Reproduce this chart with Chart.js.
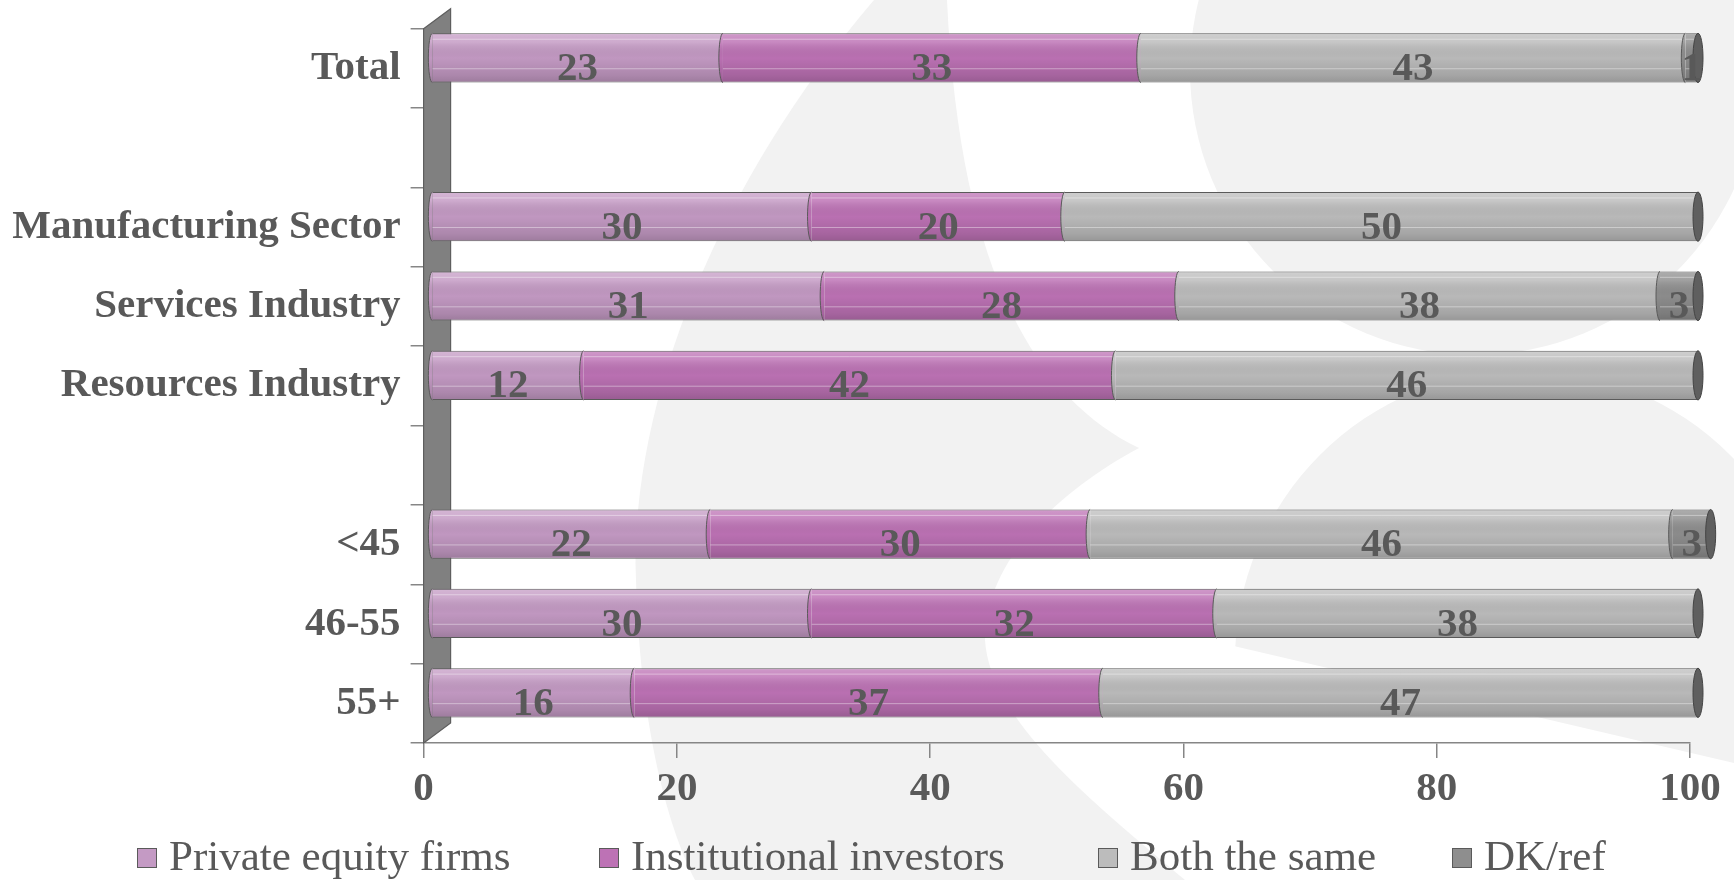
<!DOCTYPE html>
<html>
<head>
<meta charset="utf-8">
<script src="https://cdn.jsdelivr.net/npm/chart.js@4.4.1/dist/chart.umd.min.js"></script>
<style>
  html, body { margin: 0; padding: 0; background: #fff; }
  #wrap { width: 1734px; height: 880px; }
</style>
</head>
<body>
<div id="wrap"><canvas id="myGraph" width="1734" height="880"></canvas></div>
<script>
// data
const categories = ["Total", "", "Manufacturing Sector", "Services Industry", "Resources Industry", "", "<45", "46-55", "55+"];
const seriesNames = ["Private equity firms", "Institutional investors", "Both the same", "DK/ref"];
const privateEquity = [23, null, 30, 31, 12, null, 22, 30, 16];
const institutional = [33, null, 20, 28, 42, null, 30, 32, 37];
const bothSame = [43, null, 50, 38, 46, null, 46, 38, 47];
const dkRef = [1, null, 0, 3, 0, null, 3, 0, 0];
const xTicks = [0, 20, 40, 60, 80, 100];

const seriesColors = ["#c49ac4", "#bd72b5", "#bcbcbc", "#8e8e8e"];
const TEXT = "#595959";
const AXIS = "#868686";
const SERIF = "'Liberation Serif', 'Times New Roman', serif";
// fake 3d: bars sit a bit behind the front plane
const SHIFT_X = 8, SHIFT_Y = -10.5;
const WALL_DX = 27, WALL_DY = -20;
// legend marker slots (left edge of each square)
const LEGEND_SLOTS = [137, 599, 1098, 1452];

function drawWatermark(ctx) {
  ctx.save();
  ctx.fillStyle = "#fff";
  ctx.fillRect(0, 0, 1734, 880);
  ctx.fillStyle = "#f2f2f2";
  // top right disc
  ctx.beginPath();
  ctx.arc(1475, 70, 285, 0, Math.PI * 2);
  ctx.fill();
  // lower right disc, cut by a slanted line
  ctx.save();
  ctx.beginPath();
  ctx.moveTo(1200, 300); ctx.lineTo(1734, 300); ctx.lineTo(1734, 763); ctx.lineTo(1238, 647); ctx.lineTo(1200, 638);
  ctx.closePath();
  ctx.clip();
  ctx.beginPath();
  ctx.arc(1525, 660, 290, 0, Math.PI * 2);
  ctx.fill();
  ctx.restore();
  // big crescent on the left
  ctx.beginPath();
  ctx.moveTo(874, 0);
  ctx.bezierCurveTo(720, 180, 630, 400, 636, 580);
  ctx.bezierCurveTo(640, 720, 665, 820, 695, 880);
  ctx.lineTo(1185, 880);
  ctx.bezierCurveTo(1090, 800, 990, 720, 985, 640);
  ctx.bezierCurveTo(985, 560, 1060, 490, 1139, 448);
  ctx.bezierCurveTo(1040, 400, 960, 280, 947, 0);
  ctx.closePath();
  ctx.fill();
  ctx.restore();
}

function drawWall(chart) {
  const ctx = chart.ctx;
  const x0 = chart.scales.x.getPixelForValue(0);
  const top = chart.chartArea.top, bottom = chart.chartArea.bottom;
  ctx.save();
  ctx.beginPath();
  ctx.moveTo(x0, top);
  ctx.lineTo(x0 + WALL_DX, top + WALL_DY);
  ctx.lineTo(x0 + WALL_DX, bottom + WALL_DY);
  ctx.lineTo(x0, bottom);
  ctx.closePath();
  ctx.fillStyle = "#808080";
  ctx.fill();
  ctx.strokeStyle = "#5e5e5e";
  ctx.lineWidth = 1.2;
  ctx.stroke();
  ctx.restore();
}

function shade(ctx, top, h) {
  const g = ctx.createLinearGradient(0, top, 0, top + h);
  g.addColorStop(0, "rgba(255,255,255,0.28)");
  g.addColorStop(0.18, "rgba(255,255,255,0.16)");
  g.addColorStop(0.5, "rgba(0,0,0,0.02)");
  g.addColorStop(0.85, "rgba(0,0,0,0.12)");
  g.addColorStop(1, "rgba(0,0,0,0.2)");
  return g;
}

const cylinders = {
  id: "cylinders",
  beforeDraw(chart) {
    drawWatermark(chart.ctx);
  },
  beforeDatasetsDraw(chart) {
    drawWall(chart);
    chart.ctx.save();
    chart.ctx.translate(SHIFT_X, SHIFT_Y);
  },
  afterDatasetsDraw(chart) {
    const ctx = chart.ctx;
    const lastIdx = {};
    chart.data.datasets.forEach((ds, di) => {
      const meta = chart.getDatasetMeta(di);
      meta.data.forEach((el, i) => {
        const v = ds.data[i];
        if (!v) return;
        lastIdx[i] = { el, di };
        const p = el.getProps(["x", "y", "base", "height"], true);
        const left = Math.min(p.x, p.base), right = Math.max(p.x, p.base);
        const top = p.y - p.height / 2, h = p.height;
        ctx.save();
        ctx.fillStyle = shade(ctx, top, h);
        ctx.fillRect(left, top + 1, right - left, h - 2);
        // thin highlight lines along the tube
        ctx.strokeStyle = "rgba(255,255,255,0.4)";
        ctx.lineWidth = 1;
        [0.12, 0.72].forEach(f => {
          ctx.beginPath();
          ctx.moveTo(left, top + h * f);
          ctx.lineTo(right, top + h * f);
          ctx.stroke();
        });
        // curved join / left cap
        ctx.beginPath();
        ctx.ellipse(left, p.y, 4, h / 2, 0, Math.PI / 2, Math.PI * 1.5);
        ctx.closePath();
        ctx.fillStyle = ds.backgroundColor;
        ctx.fill();
        ctx.fillStyle = shade(ctx, top, h);
        ctx.fill();
        ctx.beginPath();
        ctx.ellipse(left, p.y, 4, h / 2, 0, Math.PI / 2, Math.PI * 1.5);
        ctx.strokeStyle = "#5a5a5a";
        ctx.lineWidth = 1;
        ctx.stroke();
        ctx.restore();
      });
    });
    // right end caps
    Object.values(lastIdx).forEach(({ el }) => {
      const p = el.getProps(["x", "y", "base", "height"], true);
      const right = Math.max(p.x, p.base);
      ctx.save();
      ctx.beginPath();
      ctx.ellipse(right, p.y, 5, p.height / 2, 0, 0, Math.PI * 2);
      ctx.fillStyle = "#5f5f5f";
      ctx.fill();
      ctx.strokeStyle = "#444";
      ctx.lineWidth = 1;
      ctx.stroke();
      ctx.restore();
    });
    ctx.restore();

    // value labels
    ctx.save();
    ctx.font = "bold 41px " + SERIF;
    ctx.fillStyle = TEXT;
    ctx.textAlign = "center";
    ctx.textBaseline = "middle";
    chart.data.datasets.forEach((ds, di) => {
      chart.getDatasetMeta(di).data.forEach((el, i) => {
        const v = ds.data[i];
        if (!v) return;
        const p = el.getProps(["x", "y", "base"], true);
        ctx.fillText(String(v), (p.x + p.base) / 2 + SHIFT_X, p.y + 1);
      });
    });
    ctx.restore();
  },
  afterDraw(chart) {
    // legend row
    const ctx = chart.ctx;
    ctx.save();
    ctx.font = "43px " + SERIF;
    ctx.textBaseline = "middle";
    const box = 20, gapText = 12, cy = 858;
    chart.data.datasets.forEach((ds, di) => {
      const x = LEGEND_SLOTS[di];
      ctx.fillStyle = ds.backgroundColor;
      ctx.fillRect(x, cy - box / 2, box, box);
      ctx.strokeStyle = "#5a5a5a";
      ctx.lineWidth = 1;
      ctx.strokeRect(x + 0.5, cy - box / 2 + 0.5, box - 1, box - 1);
      ctx.fillStyle = TEXT;
      ctx.fillText(ds.label, x + box + gapText, cy + 1);
    });
    ctx.restore();
  }
};

const allSeries = [privateEquity, institutional, bothSame, dkRef];

new Chart(document.getElementById("myGraph"), {
  type: "bar",
  data: {
    labels: categories,
    datasets: allSeries.map((vals, k) => ({
      label: seriesNames[k],
      data: vals,
      backgroundColor: seriesColors[k],
      borderColor: "#5a5a5a",
      borderWidth: { top: 1, bottom: 1, left: 0, right: 0 },
      borderSkipped: false,
      barPercentage: 0.62,
      categoryPercentage: 1,
      clip: false
    }))
  },
  options: {
    indexAxis: "y",
    responsive: false,
    devicePixelRatio: 1,
    animation: false,
    layout: { padding: { top: 28.75, right: 44, left: 0, bottom: 0 } },
    plugins: {
      legend: { display: false },
      tooltip: { enabled: false }
    },
    scales: {
      x: {
        type: "linear",
        stacked: true,
        min: 0,
        max: 100,
        afterBuildTicks: (axis) => { axis.ticks = xTicks.map(v => ({ value: v })); },
        afterFit: (axis) => { axis.height = 137; axis.paddingLeft = 0; axis.paddingRight = 0; },
        grid: { drawOnChartArea: false, drawTicks: true, tickLength: 15, color: AXIS, lineWidth: 1.5 },
        border: { display: true, color: AXIS, width: 1.5 },
        ticks: { font: { family: SERIF, size: 41, weight: "bold" }, color: TEXT, padding: 7 }
      },
      y: {
        type: "category",
        stacked: true,
        afterFit: (axis) => { axis.width = 423.6; axis.paddingTop = 0; axis.paddingBottom = 0; },
        grid: { offset: true, drawOnChartArea: false, drawTicks: true, tickLength: 13, color: AXIS, lineWidth: 1.5 },
        border: { display: false },
        ticks: { autoSkip: false, font: { family: SERIF, size: 41, weight: "bold" }, color: TEXT, padding: 10 }
      }
    }
  },
  plugins: [cylinders]
});
</script>
</body>
</html>
